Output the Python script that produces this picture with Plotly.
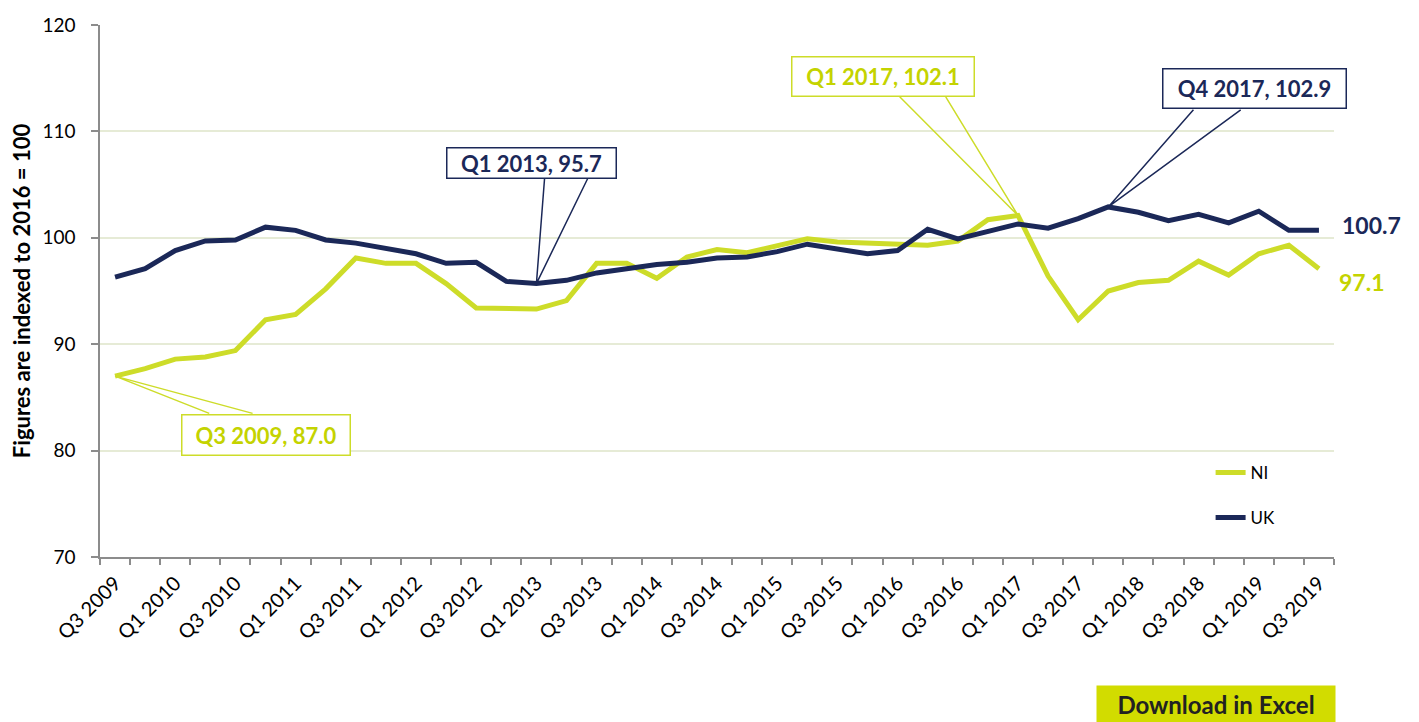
import plotly.graph_objects as go

quarters = [
    "Q3 2009", "Q4 2009", "Q1 2010", "Q2 2010", "Q3 2010", "Q4 2010",
    "Q1 2011", "Q2 2011", "Q3 2011", "Q4 2011", "Q1 2012", "Q2 2012",
    "Q3 2012", "Q4 2012", "Q1 2013", "Q2 2013", "Q3 2013", "Q4 2013",
    "Q1 2014", "Q2 2014", "Q3 2014", "Q4 2014", "Q1 2015", "Q2 2015",
    "Q3 2015", "Q4 2015", "Q1 2016", "Q2 2016", "Q3 2016", "Q4 2016",
    "Q1 2017", "Q2 2017", "Q3 2017", "Q4 2017", "Q1 2018", "Q2 2018",
    "Q3 2018", "Q4 2018", "Q1 2019", "Q2 2019", "Q3 2019",
]

ni_values = [
    87.0, 87.7, 88.6, 88.8, 89.4, 92.3, 92.8, 95.2, 98.1, 97.6, 97.6,
    95.7, 93.4, 93.4, 93.3, 94.1, 97.6, 97.6, 96.2, 98.2, 98.9, 98.6,
    99.3, 99.9, 99.6, 99.5, 99.4, 99.3, 99.7, 101.7, 102.1, 96.4, 92.3,
    95.0, 95.8, 96.0, 97.8, 96.5, 98.5, 99.3, 97.1,
]

uk_values = [
    96.3, 97.1, 98.8, 99.7, 99.8, 101.0, 100.7, 99.8, 99.5, 99.0, 98.5,
    97.6, 97.7, 95.9, 95.7, 96.0, 96.7, 97.1, 97.5, 97.7, 98.1, 98.2,
    98.7, 99.4, 98.9, 98.5, 98.8, 100.8, 99.9, 100.6, 101.3, 100.9, 101.8,
    102.9, 102.4, 101.6, 102.2, 101.4, 102.5, 100.7, 100.7,
]

NI_COLOR = "#cddc29"
NI_TEXT = "#c4d300"
UK_COLOR = "#1b2858"
FONT = "Lato"

x_idx = list(range(len(quarters)))
label_idx = x_idx[::2]
label_text = quarters[::2]

fig = go.Figure()
fig.add_trace(go.Scatter(x=x_idx, y=ni_values, name="NI", mode="lines",
                         line=dict(color=NI_COLOR, width=5), legendgroup="ni"))
fig.add_trace(go.Scatter(x=x_idx, y=uk_values, name="UK", mode="lines",
                         line=dict(color=UK_COLOR, width=5), legendgroup="uk"))

# callouts: quarter, series, line colour, text colour, box centre (x, y), box size (w, h px),
# x positions where the pointer leaves the box edge, y of that edge
callouts = [
    ("Q3 2009", ni_values, NI_COLOR, NI_TEXT, 5.03, 81.5, 170, 42, (3.13, 4.57), 83.5),
    ("Q1 2013", uk_values, UK_COLOR, UK_COLOR, 13.83, 107.05, 171, 32, (14.27, 15.7), 105.55),
    ("Q1 2017", ni_values, NI_COLOR, NI_TEXT, 25.53, 115.2, 184, 41, (26.07, 27.6), 113.25),
    ("Q4 2017", uk_values, UK_COLOR, UK_COLOR, 37.87, 114.0, 185, 41, (35.83, 37.4), 112.03),
]

annotations = []
shapes = []
for q, vals, lc, tc, bx, by, bw, bh, (ex1, ex2), ey in callouts:
    i = quarters.index(q)
    v = vals[i]
    shapes.append(dict(type="path", xref="x", yref="y",
                       path=f"M {ex1},{ey} L {i},{v} L {ex2},{ey}",
                       line=dict(color=lc, width=1.5)))
    annotations.append(dict(x=bx, y=by, xref="x", yref="y", showarrow=False,
                            text=f"<b>{q}, {v:.1f}</b>",
                            font=dict(family=FONT, size=22, color=tc),
                            bgcolor="white", bordercolor=lc, borderwidth=1.5,
                            borderpad=2, width=bw - 7, height=bh - 7))

# end labels
annotations.append(dict(x=x_idx[-1], y=uk_values[-1], xref="x", yref="y",
                        showarrow=False, xanchor="left", xshift=21, yshift=5,
                        text=f"<b>{uk_values[-1]:.1f}</b>",
                        font=dict(family=FONT, size=23, color=UK_COLOR)))
annotations.append(dict(x=x_idx[-1], y=ni_values[-1], xref="x", yref="y",
                        showarrow=False, xanchor="left", xshift=18, yshift=-13,
                        text=f"<b>{ni_values[-1]:.1f}</b>",
                        font=dict(family=FONT, size=23, color=NI_TEXT)))

# download button
annotations.append(dict(x=0.9044, y=-0.2406, xref="paper", yref="paper",
                        xanchor="center", yanchor="top", showarrow=False,
                        text="<b>Download in Excel</b>",
                        font=dict(family=FONT, size=24, color="#222222"),
                        bgcolor="#d2dc00", borderpad=4, width=230))

# the page body adds an 8px offset, so the figure is 8px smaller than the window
fig.update_layout(
    width=1411, height=714,
    margin=dict(l=92, r=85, t=17, b=165, autoexpand=False),
    paper_bgcolor="white", plot_bgcolor="white",
    font=dict(family=FONT, size=16, color="black"),
    showlegend=True,
    legend=dict(x=0.9, y=0.192, xanchor="left", yanchor="top",
                bgcolor="rgba(0,0,0,0)", font=dict(family=FONT, size=17, color="black"),
                tracegroupgap=20, traceorder="grouped"),
    xaxis=dict(range=[-0.5, 40.5], tickmode="array", tickvals=label_idx,
               ticktext=label_text, tickangle=-45, ticks="", automargin=False,
               ticklabelstandoff=5,
               tickfont=dict(family=FONT, size=20, color="black"),
               showline=True, linecolor="#8c8c8c", linewidth=1.5,
               showgrid=False, zeroline=False,
               minor=dict(tick0=-0.5, dtick=1, ticks="outside", ticklen=6,
                          tickcolor="#8c8c8c", tickwidth=1.5, showgrid=False)),
    yaxis=dict(range=[70, 120], dtick=10, ticks="outside", ticklen=7,
               tickcolor="#8c8c8c", tickwidth=1.5, automargin=False,
               ticklabelstandoff=12,
               tickfont=dict(family=FONT, size=19, color="black"),
               showline=True, linecolor="#8c8c8c", linewidth=1.5,
               gridcolor="#e6ebd6", gridwidth=1.5, zeroline=False,
               title=dict(text="<b>Figures are indexed to 2016 = 100</b>",
                          font=dict(family=FONT, size=22, color="black"),
                          standoff=6)),
    annotations=annotations,
    shapes=shapes,
)

fig.write_html("out.html")
